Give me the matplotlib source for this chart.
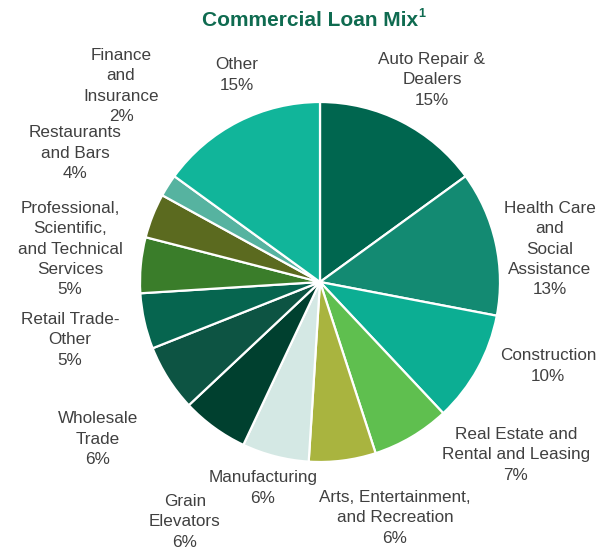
import matplotlib.pyplot as plt

plt.rcParams['font.family'] = ['Liberation Sans', 'DejaVu Sans']

# loan mix by industry, clockwise from 12 o'clock
sectors = ['Auto Repair &\nDealers', 'Health Care\nand\nSocial\nAssistance', 'Construction',
           'Real Estate and\nRental and Leasing', 'Arts, Entertainment,\nand Recreation',
           'Manufacturing', 'Grain\nElevators', 'Wholesale\nTrade', 'Retail Trade-\nOther',
           'Professional,\nScientific,\nand Technical\nServices', 'Restaurants\nand Bars',
           'Finance\nand\nInsurance', 'Other']
shares = [15, 13, 10, 7, 6, 6, 6, 6, 5, 5, 4, 2, 15]
colors = ['#00664f', '#138a72', '#0cae93', '#5fbf4f', '#a9b43f', '#d4e8e4', '#00402f',
          '#0d5443', '#06654f', '#3a7d2a', '#5b6a1f', '#56b3a0', '#11b59a']

# label anchor points (pixels from top-left)
label_pos = [(432, 80), (550, 249), (548, 366), (516, 455), (395, 518), (263, 488),
             (185, 522), (98, 439), (70, 340), (70, 249), (75, 153), (121, 86), (237, 75)]

W, H = 610, 549
fig = plt.figure(figsize=(W / 100, H / 100), dpi=100)
ax = fig.add_axes([0, 0, 1, 1])
ax.axis('off')

ax.pie(shares, colors=colors, startangle=90, counterclock=False,
       center=(320, H - 282), radius=180,
       wedgeprops=dict(edgecolor='white', linewidth=1.6))
ax.set_xlim(0, W)
ax.set_ylim(0, H)
ax.set_aspect('equal')

for name, val, (x, y) in zip(sectors, shares, label_pos):
    ax.text(x, H - y, f'{name}\n{val}%', ha='center', va='center',
            fontsize=12.3, color='#404040', linespacing=1.42)

ax.text(310, H - 20, 'Commercial Loan Mix', ha='center', va='center',
        fontsize=15, fontweight='bold', color='#0f6b50')
ax.text(418, H - 14, '1', ha='left', va='center', fontsize=9,
        fontweight='bold', color='#0f6b50')

fig.savefig('out.png', dpi=100)
